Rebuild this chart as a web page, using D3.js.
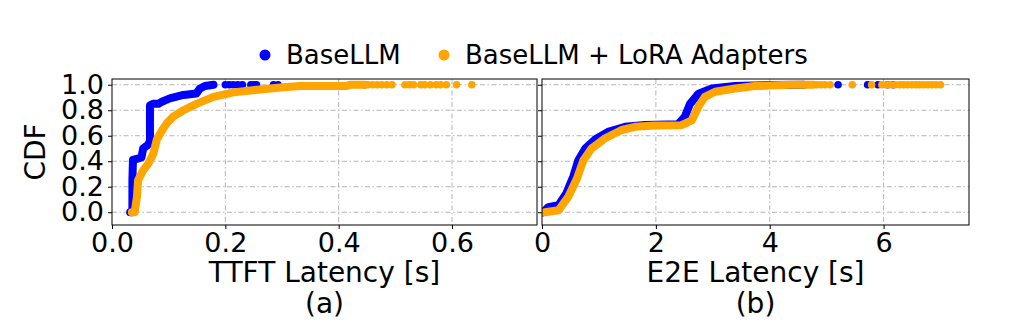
<!DOCTYPE html>
<html>
<head>
<meta charset="utf-8">
<script src="https://cdn.jsdelivr.net/npm/d3@7"></script>
<style>
  html, body { margin: 0; padding: 0; background: #fff; }
  svg { display: block; font-family: "DejaVu Sans", sans-serif; }
</style>
</head>
<body>
<svg id="chart" width="1024" height="332"></svg>
<script>
// ---- Series names and colours ----
const seriesNames = ["BaseLLM", "BaseLLM + LoRA Adapters"];
const seriesColors = ["#0000ff", "#ffa500"];

// ---- (a) Time-to-first-token latency CDF ----
const ttftBaseLat = [0.032, 0.036, 0.036, 0.037, 0.045, 0.052, 0.055, 0.064, 0.067, 0.067, 0.073, 0.082, 0.088, 0.102, 0.126, 0.149, 0.155, 0.164, 0.179];
const ttftBaseCdf = [0.0,   0.0,   0.25,  0.41,  0.42,  0.43,  0.50,  0.53,  0.56,  0.84,  0.85,  0.85,  0.867, 0.893, 0.92,  0.932, 0.97,  0.99,  1.0];
const ttftBaseTail = [0.200, 0.207, 0.214, 0.222, 0.230, 0.245, 0.250, 0.255, 0.285, 0.293, 0.446];

const ttftLoraLat = [0.035, 0.040, 0.044, 0.046, 0.055, 0.064, 0.073, 0.079, 0.088, 0.097, 0.108, 0.126, 0.149, 0.179, 0.214, 0.261, 0.302, 0.332, 0.414, 0.420, 0.446];
const ttftLoraCdf = [0.0,   0.0,   0.12,  0.25,  0.33,  0.38,  0.46,  0.57,  0.64,  0.70,  0.75,  0.80,  0.85,  0.905, 0.94,  0.963, 0.98,  0.99,  0.99,  1.0,   1.0];
const ttftLoraTail = [0.452, 0.460, 0.468, 0.476, 0.485, 0.494, 0.517, 0.525, 0.532, 0.545, 0.552, 0.562, 0.572, 0.580, 0.590, 0.608, 0.635];

// ---- (b) End-to-end latency CDF ----
const e2eBaseLat = [0.02, 0.11, 0.29, 0.43, 0.55, 0.64, 0.76, 0.93, 1.16, 1.46, 1.81, 2.39, 2.51, 2.60, 2.75, 2.98, 3.39, 4.00, 4.60];
const e2eBaseCdf = [0.0,  0.04, 0.055, 0.15, 0.28, 0.41, 0.50, 0.57, 0.63, 0.67, 0.685, 0.69, 0.75, 0.85, 0.93, 0.97, 0.99, 0.997, 1.0];
const e2eBaseTail = [5.20, 5.72, 5.90, 6.07, 6.17];

const e2eLoraLat = [0.05, 0.29, 0.46, 0.61, 0.73, 0.87, 1.11, 1.40, 1.63, 1.98, 2.45, 2.63, 2.75, 2.86, 3.04, 3.39, 3.74, 4.36, 4.76];
const e2eLoraCdf = [0.0,  0.015, 0.12, 0.26, 0.41, 0.50, 0.58, 0.645, 0.67, 0.68, 0.683, 0.72, 0.83, 0.905, 0.945, 0.97, 0.99, 1.0, 1.0];
const e2eLoraTail = [4.83, 4.90, 4.97, 5.06, 5.45, 5.79, 5.97, 6.05, 6.12, 6.20, 6.28, 6.35, 6.42, 6.50, 6.57, 6.63, 6.70, 6.78, 6.85, 6.92, 7.00];

// ---- Axis ticks ----
const cdfTicks = [0.0, 0.2, 0.4, 0.6, 0.8, 1.0];
const ttftTicks = [0.0, 0.2, 0.4, 0.6];
const e2eTicks = [0, 2, 4, 6];

const svg = d3.select("#chart");

const plotTop = 79, plotBottom = 225;
const yScale = d3.scaleLinear().domain([-0.1, 1.045]).range([plotBottom, plotTop]);

const panels = [
  {
    left: 112, right: 537, domain: [0, 0.75], ticks: ttftTicks, fmt: d3.format(".1f"),
    xlabel: "TTFT Latency [s]", sub: "(a)", showY: true,
    series: [
      { lat: ttftBaseLat, cdf: ttftBaseCdf, tail: ttftBaseTail, color: seriesColors[0] },
      { lat: ttftLoraLat, cdf: ttftLoraCdf, tail: ttftLoraTail, color: seriesColors[1] }
    ]
  },
  {
    left: 542, right: 969, domain: [0, 7.5], ticks: e2eTicks, fmt: d3.format("d"),
    xlabel: "E2E Latency [s]", sub: "(b)", showY: false,
    series: [
      { lat: e2eBaseLat, cdf: e2eBaseCdf, tail: e2eBaseTail, color: seriesColors[0] },
      { lat: e2eLoraLat, cdf: e2eLoraCdf, tail: e2eLoraTail, color: seriesColors[1] }
    ]
  }
];

const gridStyle = (sel) => sel
  .attr("stroke", "#b4b4b4")
  .attr("stroke-width", 1)
  .attr("stroke-dasharray", "5,2.5,1.5,2.5")
  .attr("fill", "none");

panels.forEach((p, i) => {
  const x = d3.scaleLinear().domain(p.domain).range([p.left, p.right]);
  const g = svg.append("g");
  const clipId = "clip" + i;
  svg.append("clipPath").attr("id", clipId)
    .append("rect").attr("x", p.left).attr("y", plotTop).attr("width", p.right - p.left).attr("height", plotBottom - plotTop);

  // grid
  const grid = g.append("g");
  grid.selectAll("line.h").data(cdfTicks).join("line")
    .attr("x1", p.left).attr("x2", p.right)
    .attr("y1", d => yScale(d)).attr("y2", d => yScale(d))
    .call(gridStyle);
  grid.selectAll("line.v").data(p.ticks.filter(d => d > p.domain[0])).join("line")
    .attr("x1", d => x(d)).attr("x2", d => x(d))
    .attr("y1", plotTop).attr("y2", plotBottom)
    .call(gridStyle);

  // data: dense part as a thick marker trail, sparse tail as individual markers
  const plot = g.append("g").attr("clip-path", `url(#${clipId})`);
  const line = d3.line().x(d => x(d[0])).y(d => yScale(d[1]));
  p.series.forEach(s => {
    const pts = s.lat.map((v, k) => [v, s.cdf[k]]);
    plot.append("path").datum(pts)
      .attr("d", line)
      .attr("fill", "none")
      .attr("stroke", s.color)
      .attr("stroke-width", 8)
      .attr("stroke-linejoin", "round")
      .attr("stroke-linecap", "round");
    plot.selectAll(null).data(s.tail).join("circle")
      .attr("cx", d => x(d)).attr("cy", yScale(1.0))
      .attr("r", 3.8)
      .attr("fill", s.color);
  });

  // frame
  g.append("rect")
    .attr("x", p.left).attr("y", plotTop)
    .attr("width", p.right - p.left).attr("height", plotBottom - plotTop)
    .attr("fill", "none").attr("stroke", "#000").attr("stroke-width", 1);

  // x axis
  const xAxis = d3.axisBottom(x).tickValues(p.ticks).tickFormat(p.fmt).tickSize(4).tickPadding(4);
  const xa = g.append("g").attr("transform", `translate(0,${plotBottom})`).call(xAxis);
  xa.select(".domain").remove();
  xa.selectAll("text").attr("font-size", 27).attr("fill", "#000").attr("font-family", "DejaVu Sans");

  // y axis
  const yAxis = d3.axisLeft(yScale).tickValues(cdfTicks).tickSize(4).tickPadding(4)
    .tickFormat(p.showY ? d3.format(".1f") : "");
  const ya = g.append("g").attr("transform", `translate(${p.left},0)`).call(yAxis);
  ya.select(".domain").remove();
  ya.selectAll("text").attr("font-size", 27).attr("fill", "#000").attr("font-family", "DejaVu Sans");

  // labels
  const cx = (p.left + p.right) / 2;
  g.append("text").attr("x", cx).attr("y", 282).attr("text-anchor", "middle")
    .attr("font-size", 28).text(p.xlabel);
  g.append("text").attr("x", cx).attr("y", 313).attr("text-anchor", "middle")
    .attr("font-size", 28).text(p.sub);
});

// y label
svg.append("text")
  .attr("transform", "translate(45,152) rotate(-90)")
  .attr("text-anchor", "middle")
  .attr("font-size", 28)
  .text("CDF");

// legend
const legendX = [265, 444];
const legend = svg.append("g");
seriesNames.forEach((name, i) => {
  legend.append("circle").attr("cx", legendX[i]).attr("cy", 55).attr("r", 5.5).attr("fill", seriesColors[i]);
  legend.append("text").attr("x", legendX[i] + 21).attr("y", 64)
    .attr("font-size", 26).text(name);
});
</script>
</body>
</html>
